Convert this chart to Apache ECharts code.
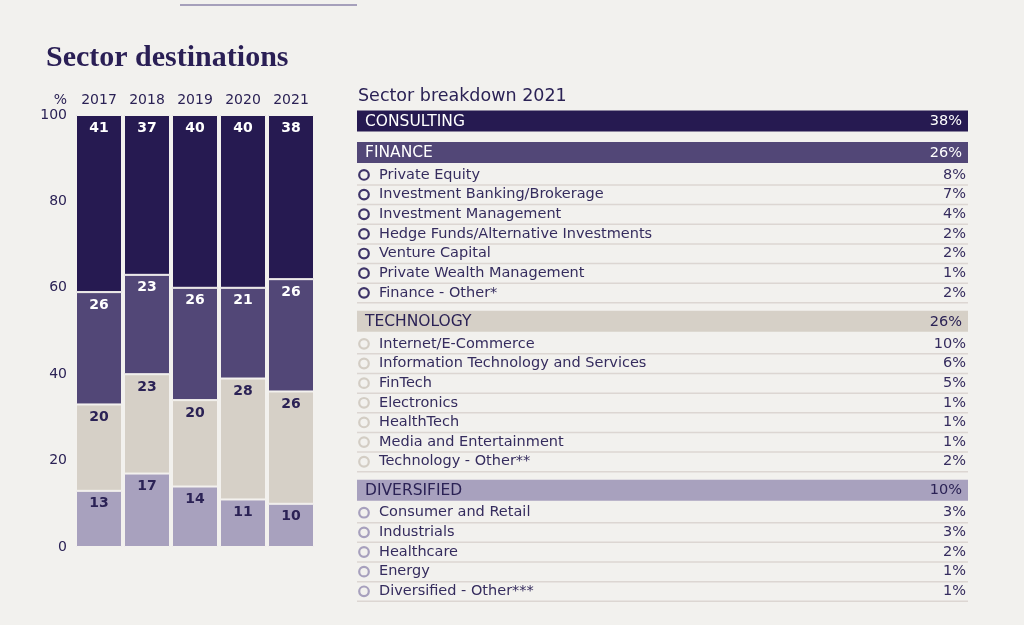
<!DOCTYPE html>
<html>
<head>
<meta charset="utf-8">
<script src="https://cdn.jsdelivr.net/npm/echarts@6/dist/echarts.min.js"></script>
<style>
html,body{margin:0;padding:0;background:#f2f1ee;}
#c{width:1024px;height:625px;}
</style>
</head>
<body>
<div id="c"></div>
<script>
// ---------- data ----------
const years = ['2017', '2018', '2019', '2020', '2021'];
const diversified = [13, 17, 14, 11, 10];
const technology = [20, 23, 20, 28, 26];
const finance = [26, 23, 26, 21, 26];
const consulting = [41, 37, 40, 40, 38];
const yTicks = [0, 20, 40, 60, 80, 100];

const sectorNames = ['CONSULTING', 'FINANCE', 'TECHNOLOGY', 'DIVERSIFIED'];
const sectorShares2021 = [38, 26, 26, 10];
const consultingItems = [];
const consultingItemShares = [];
const financeItems = ['Private Equity', 'Investment Banking/Brokerage', 'Investment Management', 'Hedge Funds/Alternative Investments', 'Venture Capital', 'Private Wealth Management', 'Finance - Other*'];
const financeItemShares = [8, 7, 4, 2, 2, 1, 2];
const technologyItems = ['Internet/E-Commerce', 'Information Technology and Services', 'FinTech', 'Electronics', 'HealthTech', 'Media and Entertainment', 'Technology - Other**'];
const technologyItemShares = [10, 6, 5, 1, 1, 1, 2];
const diversifiedItems = ['Consumer and Retail', 'Industrials', 'Healthcare', 'Energy', 'Diversified - Other***'];
const diversifiedItemShares = [3, 3, 2, 1, 1];

// ---------- styles ----------
const C_CONS = '#261a51';
const C_FIN = '#524777';
const C_TECH = '#d6d0c7';
const C_DIV = '#a8a1be';
const C_TEXT = '#2b2255';
const C_ITEM = '#352c5e';
const sectorFill = [C_CONS, C_FIN, C_TECH, C_DIV];
const sectorHeadText = ['#ffffff', '#ffffff', C_TEXT, C_TEXT];
const sectorCircle = ['#3e3468', '#3e3468', '#d3cdc4', '#a7a0bd'];
const FONT = '"DejaVu Sans", sans-serif';

// ---------- table rows (layout built from the arrays) ----------
const itemLists = [consultingItems, financeItems, technologyItems, diversifiedItems];
const itemShareLists = [consultingItemShares, financeItemShares, technologyItemShares, diversifiedItemShares];
const rows = [];
let pos = 0;
let prevKind = null;
sectorNames.forEach((name, si) => {
  if (prevKind === 'header') pos += 1.6;
  else if (prevKind === 'item') pos += 1.45;
  rows.push({ kind: 'header', sector: si, label: name, share: sectorShares2021[si], pos: pos });
  prevKind = 'header';
  itemLists[si].forEach((lab, ii) => {
    pos += (prevKind === 'header') ? 1.145 : 1;
    rows.push({ kind: 'item', sector: si, label: lab, share: itemShareLists[si][ii], pos: pos });
    prevKind = 'item';
  });
});
const lastPos = pos;
const ROW_PX = 19.65;

const chart = echarts.init(document.getElementById('c'), null, { renderer: 'canvas' });

function barSeries(name, data, color, labelColor) {
  return {
    name: name,
    type: 'bar',
    stack: 'total',
    data: data,
    barWidth: 46,
    itemStyle: { color: color, borderColor: '#f3f1ee', borderWidth: 1 },
    label: {
      show: true,
      position: 'insideTop',
      distance: 6,
      color: labelColor,
      fontFamily: FONT,
      fontSize: 14,
      fontWeight: 'bold'
    },
    emphasis: { disabled: true }
  };
}

const option = {
  backgroundColor: '#f2f1ee',
  animation: false,
  title: [
    {
      text: 'Sector destinations',
      left: 46, top: 43, padding: 0,
      textStyle: { fontFamily: '"Liberation Serif", serif', fontWeight: 'bold', fontSize: 30, color: '#2a1f55' }
    },
    {
      text: 'Sector breakdown 2021',
      left: 358, top: 87, padding: 0,
      textStyle: { fontFamily: FONT, fontWeight: 'normal', fontSize: 17.5, color: C_TEXT }
    }
  ],
  graphic: [
    { type: 'line', shape: { x1: 180, y1: 5, x2: 357, y2: 5 }, style: { stroke: '#8c84aa', lineWidth: 1.5 } }
  ],
  grid: [
    { left: 75, width: 240, top: 115, height: 432 },
    { left: 357, width: 611, top: 121, height: lastPos * ROW_PX }
  ],
  xAxis: [
    {
      gridIndex: 0,
      type: 'category',
      data: years,
      position: 'top',
      axisLine: { show: false },
      axisTick: { show: false },
      axisLabel: { color: C_TEXT, fontFamily: FONT, fontSize: 14, margin: 8 }
    },
    { gridIndex: 1, type: 'value', min: 0, max: 1, show: false }
  ],
  yAxis: [
    {
      gridIndex: 0,
      type: 'value',
      min: 0, max: 100, interval: 20,
      name: '%',
      nameLocation: 'end',
      nameGap: 15,
      nameTextStyle: { color: C_TEXT, fontFamily: FONT, fontSize: 14, align: 'right', verticalAlign: 'middle', padding: [0, 8, 0, 0] },
      axisLine: { show: false },
      axisTick: { show: false },
      splitLine: { show: false },
      axisLabel: { color: C_TEXT, fontFamily: FONT, fontSize: 14, margin: 8,
        customValues: yTicks }
    },
    { gridIndex: 1, type: 'value', min: 0, max: lastPos, inverse: true, show: false }
  ],
  series: [
    barSeries('Diversified', diversified, C_DIV, C_TEXT),
    barSeries('Technology', technology, C_TECH, C_TEXT),
    barSeries('Finance', finance, C_FIN, '#ffffff'),
    barSeries('Consulting', consulting, C_CONS, '#ffffff'),
    {
      type: 'custom',
      xAxisIndex: 1,
      yAxisIndex: 1,
      data: rows.map((r, i) => [0, r.pos, i]),
      encode: { x: 0, y: 1 },
      silent: true,
      renderItem: function (params, api) {
        const r = rows[api.value(2)];
        const p0 = api.coord([0, api.value(1)]);
        const p1 = api.coord([1, api.value(1)]);
        const x0 = p0[0], x1 = p1[0], y = p0[1];
        if (r.kind === 'header') {
          return {
            type: 'group',
            children: [
              { type: 'rect', shape: { x: x0, y: y - 10.5, width: x1 - x0, height: 21 },
                style: { fill: sectorFill[r.sector] } },
              { type: 'text', style: { text: r.label, x: x0 + 8, y: y + 0.5, align: 'left', verticalAlign: 'middle',
                  fill: sectorHeadText[r.sector], fontFamily: FONT, fontSize: 15.5 } },
              { type: 'text', style: { text: r.share + '%', x: x1 - 6, y: y + 0.5, align: 'right', verticalAlign: 'middle',
                  fill: sectorHeadText[r.sector], fontFamily: FONT, fontSize: 14.5 } }
            ]
          };
        }
        return {
          type: 'group',
          children: [
            { type: 'line', shape: { x1: x0, y1: y + 10, x2: x1, y2: y + 10 },
              style: { stroke: '#dcd6d2', lineWidth: 1.5 } },
            { type: 'circle', shape: { cx: x0 + 7, cy: y, r: 4.8 },
              style: { fill: 'none', stroke: sectorCircle[r.sector], lineWidth: 2.2 } },
            { type: 'text', style: { text: r.label, x: x0 + 22, y: y, align: 'left', verticalAlign: 'middle',
                fill: C_ITEM, fontFamily: FONT, fontSize: 14.5 } },
            { type: 'text', style: { text: r.share + '%', x: x1 - 2, y: y, align: 'right', verticalAlign: 'middle',
                fill: C_ITEM, fontFamily: FONT, fontSize: 14.5 } }
          ]
        };
      }
    }
  ]
};
chart.setOption(option);
</script>
</body>
</html>
